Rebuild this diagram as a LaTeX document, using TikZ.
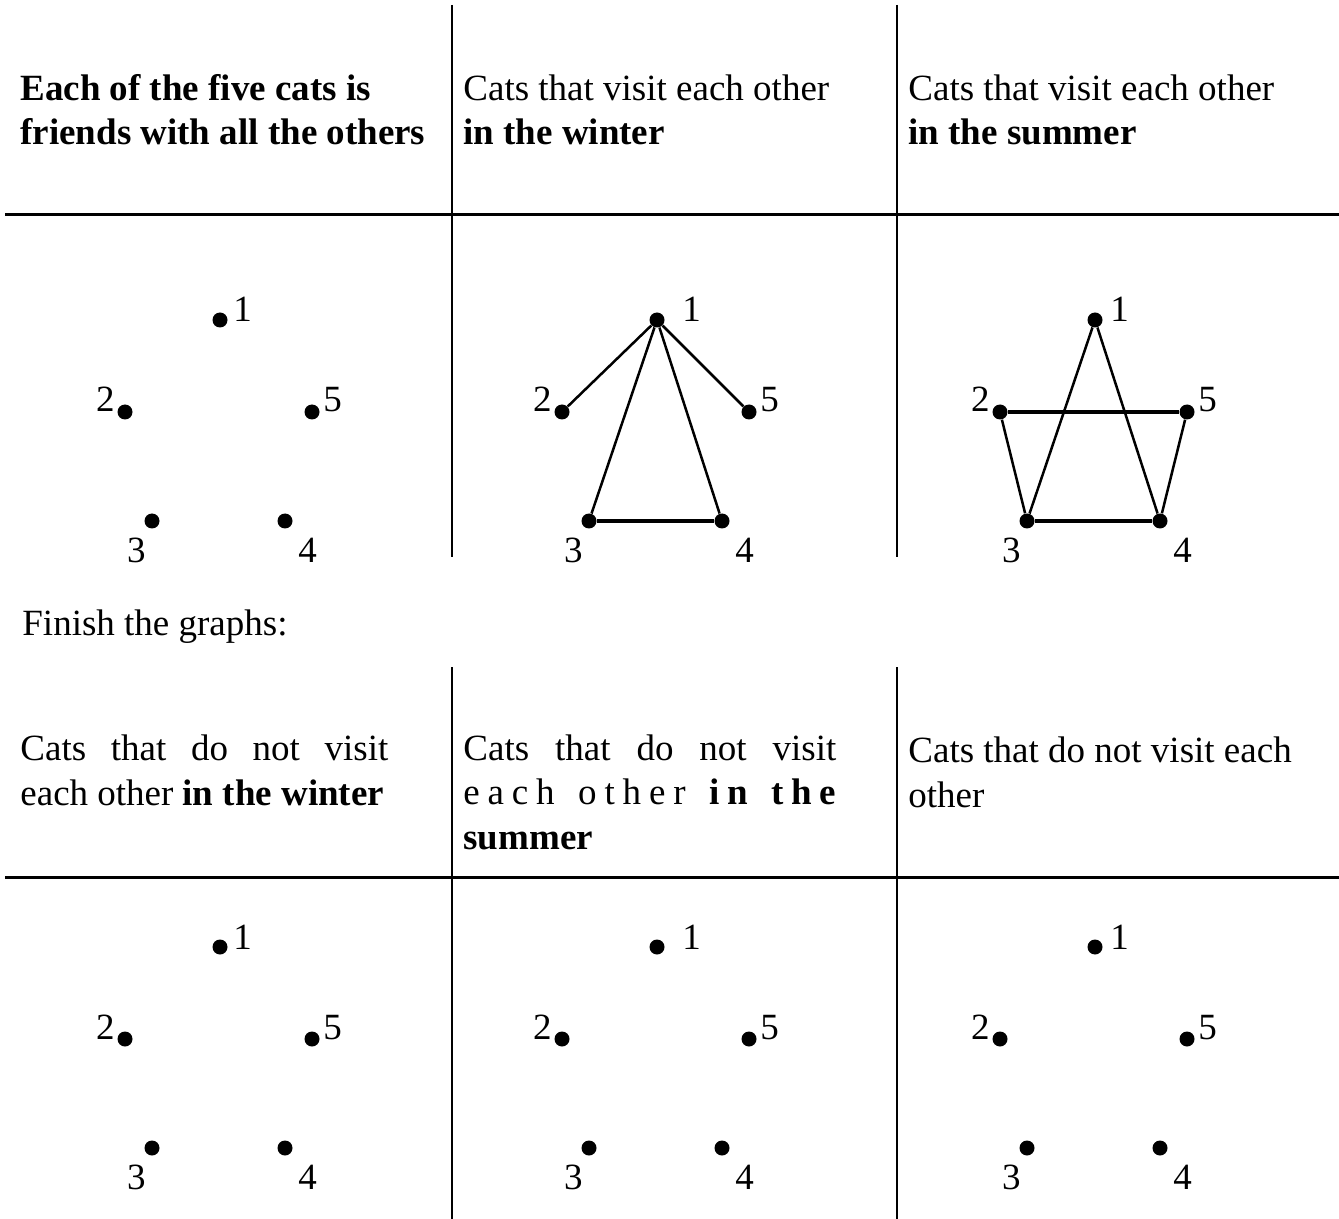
\documentclass[tikz,border=0pt]{standalone}
\usepackage{fontspec}
\setmainfont{Liberation Serif}

\begin{document}
\begin{tikzpicture}[
    x=0.5pt, y=-0.5pt,
    font=\fontsize{18.5}{22}\selectfont,
    rule/.style={line width=1pt},
    hrule/.style={line width=1.5pt},
    txt/.style={anchor=base west, inner sep=0pt},
    dot/.style={circle, fill, inner sep=0pt, minimum size=7.5pt},
    num/.style={inner sep=0pt},
    edge/.style={line width=1.25pt},
    flat/.style={line width=1.6pt},
]
\useasboundingbox (0,0) rectangle (1339,1219);

% table rules
\draw[rule] (452,5) -- (452,557);
\draw[rule] (897,5) -- (897,557);
\draw[hrule] (5,215) -- (1339,215);
\draw[rule] (452,667) -- (452,1219);
\draw[rule] (897,667) -- (897,1219);
\draw[hrule] (5,877) -- (1339,877);

% top headers
\node[txt] (t1a) at (20,101) {\textbf{Each of the five cats is}};
\node[txt] (t1b) at (20,145) {\textbf{friends with all the others}};
\node[txt] (t2a) at (463,101) {Cats that visit each other};
\node[txt] (t2b) at (463,145) {\textbf{in the winter}};
\node[txt] (t3a) at (908,101) {Cats that visit each other};
\node[txt] (t3b) at (908,145) {\textbf{in the summer}};

\node[txt] (finish) at (22,635) {Finish the graphs:};

% bottom headers
\node[txt] (b1a) at (20,760) {\makebox[184pt][s]{Cats that do not visit}};
\node[txt] (b1b) at (20,805) {each other \textbf{in the winter}};
\node[txt] (b2a) at (463,760) {\makebox[186.5pt][s]{Cats that do not visit}};
\node[txt] (b2b) at (463,804) {\makebox[186.5pt][s]{e\hfill a\hfill c\hfill h\hfill\hfill\hfill o\hfill t\hfill h\hfill e\hfill r\hfill\hfill\hfill\textbf{i\hfill n\hfill\hfill\hfill t\hfill h\hfill e}}};
\node[txt] (b2c) at (463,849) {\textbf{summer}};
\node[txt] (b3a) at (908,762) {Cats that do not visit each};
\node[txt] (b3b) at (908,807) {other};

% the five cats in every cell
\foreach \n/\dx/\dy/\g in {a/0/0/13, b/437/0/25, c/875/0/15, d/0/627/13, e/437/627/25, f/875/627/15} {
  \node[dot] (\n1) at (\dx+220,\dy+320) {};
  \node[dot] (\n2) at (\dx+125,\dy+412) {};
  \node[dot] (\n3) at (\dx+152,\dy+521) {};
  \node[dot] (\n4) at (\dx+285,\dy+521) {};
  \node[dot] (\n5) at (\dx+312,\dy+412) {};
  \node[num, anchor=base west] (\n1n) at (\dx+220+\g,\dy+322) {1};
  \node[num, anchor=base east] (\n2n) at (\dx+115,\dy+412) {2};
  \node[num, anchor=base east] (\n3n) at (\dx+146,\dy+562) {3};
  \node[num, anchor=base west] (\n4n) at (\dx+298,\dy+562) {4};
  \node[num, anchor=base west] (\n5n) at (\dx+323,\dy+412) {5};
}

% winter
\draw[edge] (b1) -- (b2);
\draw[edge] (b1) -- (b5);
\draw[edge] (b1) -- (b3);
\draw[edge] (b1) -- (b4);
\draw[flat] (b3) -- (b4);

% summer
\draw[flat] (c2) -- (c5);
\draw[edge] (c2) -- (c3);
\draw[edge] (c5) -- (c4);
\draw[flat] (c3) -- (c4);
\draw[edge] (c1) -- (c3);
\draw[edge] (c1) -- (c4);
\end{tikzpicture}
\end{document}
